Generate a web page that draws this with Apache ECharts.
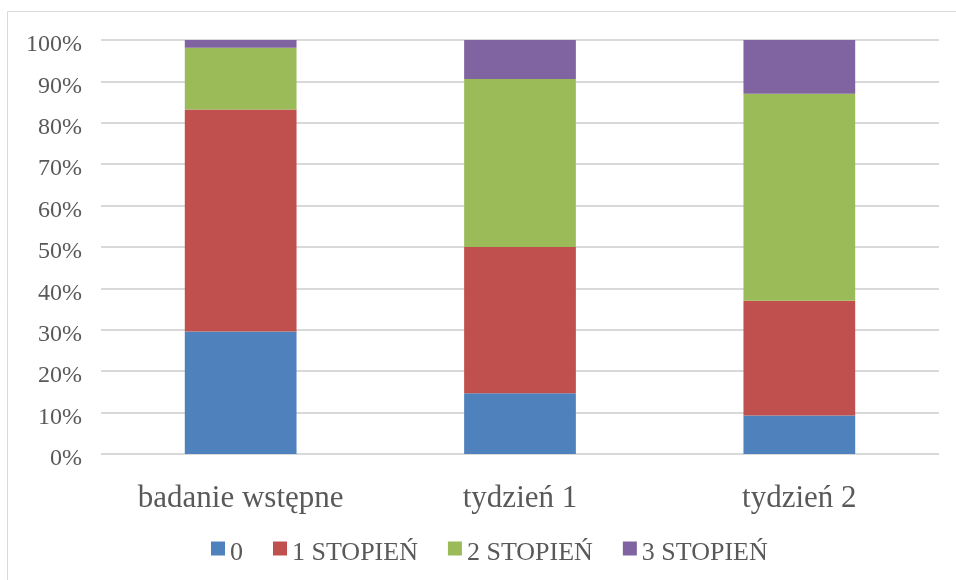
<!DOCTYPE html>
<html>
<head>
<meta charset="utf-8">
<script src="https://cdn.jsdelivr.net/npm/echarts@6/dist/echarts.min.js"></script>
<style>
  html, body { margin: 0; padding: 0; background: #ffffff; }
  #chart { width: 956px; height: 580px; }
</style>
</head>
<body>
<div id="chart"></div>
<script>
// Categories (stages of the study)
const categories = ['badanie wstępne', 'tydzień 1', 'tydzień 2'];

// Series names
const seriesNames = ['0', '1 STOPIEŃ', '2 STOPIEŃ', '3 STOPIEŃ'];

// Share of each grade per stage, in percent
const grade0 = [29.6, 14.7, 9.3];
const grade1 = [53.6, 35.3, 27.7];
const grade2 = [14.9, 40.6, 50.0];
const grade3 = [1.9, 9.4, 13.0];

// Y axis tick labels (0% .. 100%)
const yTicks = [0, 10, 20, 30, 40, 50, 60, 70, 80, 90, 100];

const colors = ['#4F81BD', '#C0504D', '#9BBB59', '#8064A2'];
const font = "'Liberation Serif', 'Times New Roman', serif";
const textColor = '#595959';

const values = [grade0, grade1, grade2, grade3];

const chart = echarts.init(document.getElementById('chart'), null, { renderer: 'canvas' });

chart.setOption({
  animation: false,
  backgroundColor: '#ffffff',
  color: colors,
  textStyle: { fontFamily: font, color: textColor },
  graphic: [{
    type: 'rect',
    shape: { x: 7.5, y: 11.5, width: 1200, height: 1200 },
    style: { fill: 'none', stroke: '#d9d9d9', lineWidth: 1 },
    silent: true,
    z: -1
  }],
  grid: { left: 101, right: 17, top: 40, bottom: 126, containLabel: false },
  legend: {
    data: seriesNames,
    left: 211,
    top: 531,
    padding: 0,
    itemWidth: 14,
    itemHeight: 14,
    itemGap: 30,
    icon: 'rect',
    formatter: name => '{t|' + name + '}',
    textStyle: {
      fontFamily: font, fontSize: 26, color: textColor,
      rich: { t: { fontFamily: font, fontSize: 26, color: textColor, lineHeight: 26, padding: [9, 0, 0, 0] } }
    }
  },
  xAxis: {
    type: 'category',
    data: categories,
    axisTick: { show: false },
    axisLine: { show: false },
    axisLabel: { fontFamily: font, fontSize: 31, color: textColor, margin: 29 }
  },
  yAxis: {
    type: 'value',
    min: yTicks[0],
    max: yTicks[yTicks.length - 1],
    interval: yTicks[1] - yTicks[0],
    axisLine: { show: false },
    axisTick: { show: false },
    axisLabel: {
      fontFamily: font, fontSize: 24, color: textColor, margin: 19,
      formatter: v => '{p|' + v + '%}',
      rich: { p: { fontFamily: font, fontSize: 24, color: textColor, lineHeight: 24, padding: [10, 0, 0, 0] } }
    },
    splitLine: { lineStyle: { color: '#d9d9d9', width: 2 } }
  },
  series: seriesNames.map((name, i) => ({
    name: name,
    type: 'bar',
    stack: 'total',
    barWidth: '40%',
    data: values[i],
    itemStyle: { color: colors[i] }
  }))
});
</script>
</body>
</html>
